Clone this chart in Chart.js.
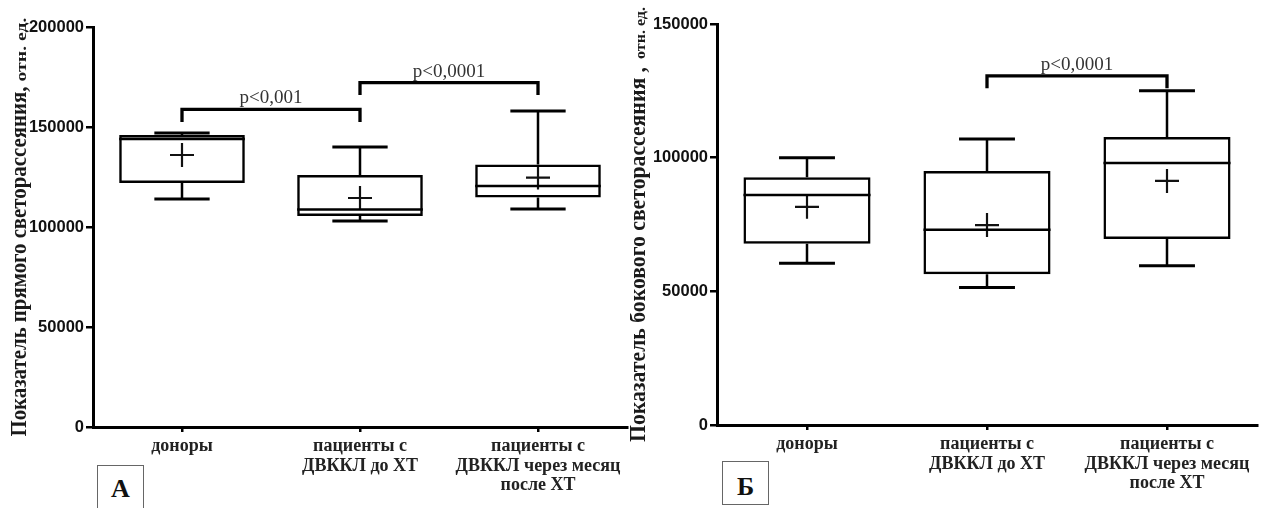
<!DOCTYPE html>
<html>
<head>
<meta charset="utf-8">
<script src="https://cdn.jsdelivr.net/npm/chart.js@4.4.0/dist/chart.umd.min.js"></script>
<style>
    body { margin: 0; background: #fff; width: 1264px; height: 508px; overflow: hidden; position: relative; }
    .panel { position: absolute; top: 0; height: 508px; }
    #panelA { left: 0; width: 630px; }
    #panelB { left: 630px; width: 634px; }
    .letter { position: absolute; border: 1px solid #666; box-sizing: border-box; text-align: center;
              font: bold 26px "Liberation Serif", serif; color: #111; background: #fff; }
</style>
</head>
<body>
<div class="panel" id="panelA"><canvas id="chartA" width="630" height="508"></canvas></div>
<div class="panel" id="panelB"><canvas id="chartB" width="634" height="508"></canvas></div>
<div class="letter" style="left:97px; top:465px; width:47px; height:50px; line-height:46px;">А</div>
<div class="letter" style="left:722px; top:461px; width:47px; height:44px; line-height:50px;">Б</div>

<script>
// Groups (same for both panels)
var categories = ['доноры', ['пациенты с', 'ДВККЛ до ХТ'], ['пациенты с', 'ДВККЛ через месяц', 'после ХТ']];

// Panel A - forward scatter
var minA = [114000, 103000, 109000];
var q1A = [122000, 105500, 114700];
var medianA = [144000, 108800, 120500];
var q3A = [146000, 126000, 131300];
var maxA = [147000, 140000, 158000];
var meanA = [136000, 114500, 124700];
var ticksA = [0, 50000, 100000, 150000, 200000];

// Panel B - side scatter
var minB = [60500, 51400, 59600];
var q1B = [67800, 56400, 69600];
var medianB = [86000, 73000, 98000];
var q3B = [92700, 95000, 107700];
var maxB = [100000, 107000, 125000];
var meanB = [81600, 74800, 91300];
var ticksB = [0, 50000, 100000, 150000];

// significance brackets
var bracketFromA = [0, 1];
var bracketToA = [1, 2];
var bracketLevelA = [158800, 172200];
var bracketTipA = [152500, 166000];
var bracketTextA = ['p<0,001', 'p<0,0001'];

var bracketFromB = [1];
var bracketToB = [2];
var bracketLevelB = [130600];
var bracketTipB = [126000];
var bracketTextB = ['p<0,0001'];

// whiskers, caps and median lines on top of the floating bars
var boxExtras = {
    id: 'boxExtras',
    afterDatasetsDraw: function (chart, args, opts) {
        var ctx = chart.ctx;
        var y = chart.scales.y;
        var bars = chart.getDatasetMeta(0).data;
        ctx.save();
        ctx.strokeStyle = '#000';
        ctx.lineWidth = 2.5;
        bars.forEach(function (bar, i) {
            var half = bar.width / 2;
            var cap = bar.width * 0.22;
            var yMed = y.getPixelForValue(opts.median[i]);
            var yQ1 = y.getPixelForValue(opts.q1[i]);
            var yQ3 = y.getPixelForValue(opts.q3[i]);
            var yMin = y.getPixelForValue(opts.min[i]);
            var yMax = y.getPixelForValue(opts.max[i]);
            ctx.beginPath();
            ctx.moveTo(bar.x - half, yMed); ctx.lineTo(bar.x + half, yMed);
            ctx.moveTo(bar.x, yQ3); ctx.lineTo(bar.x, yMax);
            ctx.moveTo(bar.x, yQ1); ctx.lineTo(bar.x, yMin);
            ctx.stroke();
            ctx.lineWidth = 3;
            ctx.beginPath();
            ctx.moveTo(bar.x - cap, yMax); ctx.lineTo(bar.x + cap, yMax);
            ctx.moveTo(bar.x - cap, yMin); ctx.lineTo(bar.x + cap, yMin);
            ctx.stroke();
            ctx.lineWidth = 2.5;
        });
        ctx.restore();
    }
};

var brackets = {
    id: 'brackets',
    afterDatasetsDraw: function (chart, args, opts) {
        var ctx = chart.ctx;
        var x = chart.scales.x, y = chart.scales.y;
        ctx.save();
        ctx.strokeStyle = '#000';
        ctx.lineWidth = 3.3;
        ctx.fillStyle = '#333';
        ctx.font = '19px "Liberation Serif", serif';
        ctx.textAlign = 'center';
        ctx.textBaseline = 'alphabetic';
        opts.from.forEach(function (f, i) {
            var x1 = x.getPixelForValue(f), x2 = x.getPixelForValue(opts.to[i]);
            var yl = y.getPixelForValue(opts.level[i]), yt = y.getPixelForValue(opts.tip[i]);
            ctx.beginPath();
            ctx.moveTo(x1, yt); ctx.lineTo(x1, yl); ctx.lineTo(x2, yl); ctx.lineTo(x2, yt);
            ctx.stroke();
            ctx.fillText(opts.text[i], (x1 + x2) / 2, yl - 6);
        });
        ctx.restore();
    }
};

// rotated y title: large condensed main part plus smaller units
var yTitle = {
    id: 'yTitle',
    afterDraw: function (chart, args, opts) {
        var ctx = chart.ctx;
        var area = chart.chartArea;
        var total = opts.mainLen + opts.gap + opts.suffixLen;
        ctx.save();
        ctx.fillStyle = '#1a1a1a';
        ctx.textBaseline = 'alphabetic';
        ctx.textAlign = 'left';
        ctx.translate(opts.x, (area.top + area.bottom) / 2);
        ctx.rotate(-Math.PI / 2);
        ctx.save();
        ctx.font = 'bold 24px "Liberation Serif", serif';
        ctx.translate(-total / 2, 0);
        ctx.scale(opts.mainLen / ctx.measureText(opts.main).width, 1);
        ctx.fillText(opts.main, 0, 0);
        ctx.restore();
        ctx.save();
        ctx.font = 'bold 15px "Liberation Serif", serif';
        ctx.translate(-total / 2 + opts.mainLen + opts.gap, 0);
        ctx.scale(opts.suffixLen / ctx.measureText(opts.suffix).width, 1);
        ctx.fillText(opts.suffix, 0, 0);
        ctx.restore();
        ctx.restore();
    }
};

function makeChart(id, d) {
    var ctx = document.getElementById(id).getContext('2d');
    return new Chart(ctx, {
        type: 'bar',
        data: {
            labels: categories,
            datasets: [{
                data: d.q1.map(function (v, i) { return [v, d.q3[i]]; }),
                backgroundColor: 'rgba(255,255,255,0)',
                borderColor: '#000',
                borderWidth: 2.5,
                borderSkipped: false,
                barPercentage: 0.706,
                categoryPercentage: 1
            }, {
                type: 'line',
                data: d.mean,
                showLine: false,
                pointStyle: 'cross',
                pointRadius: 12,
                pointHoverRadius: 12,
                pointBorderWidth: 2.2,
                pointBorderColor: '#111',
                pointBackgroundColor: 'rgba(0,0,0,0)'
            }]
        },
        options: {
            responsive: false,
            animation: false,
            events: [],
            layout: { padding: d.padding, autoPadding: false },
            scales: {
                x: {
                    offset: true,
                    grid: { offset: false, drawOnChartArea: false, color: '#000', lineWidth: 2.5, tickLength: 5 },
                    border: { color: '#000', width: 3 },
                    ticks: {
                        color: '#222',
                        font: { family: '"Liberation Serif", serif', size: 18, weight: 'bold', lineHeight: 1.08 },
                        padding: 5,
                        maxRotation: 0,
                        autoSkip: false
                    },
                    afterFit: function (s) {
                        s.height = d.xHeight;
                        s.paddingLeft = 0;
                        s.paddingRight = 0;
                    }
                },
                y: {
                    min: d.ticks[0],
                    max: d.ticks[d.ticks.length - 1],
                    grid: { drawOnChartArea: false, color: '#000', lineWidth: 2.5, tickLength: 7 },
                    border: { color: '#000', width: 3 },
                    ticks: {
                        stepSize: d.ticks[1] - d.ticks[0],
                        color: '#111',
                        font: { family: '"Liberation Sans", Arial, sans-serif', size: 16.5, weight: 'bold' },
                        padding: 2,
                        callback: function (v) { return String(v); }
                    },
                    afterFit: function (s) { s.width = d.yWidth; }
                }
            },
            plugins: {
                legend: { display: false },
                tooltip: { enabled: false },
                boxExtras: { min: d.min, q1: d.q1, median: d.median, q3: d.q3, max: d.max },
                brackets: d.brackets,
                yTitle: d.title
            }
        },
        plugins: [boxExtras, brackets, yTitle]
    });
}

var chartA = makeChart('chartA', {
    min: minA, q1: q1A, median: medianA, q3: q3A, max: maxA, mean: meanA, ticks: ticksA,
    padding: { top: 27, right: 3, bottom: 0, left: 0 },
    yWidth: 93, xHeight: 81,
    brackets: { from: bracketFromA, to: bracketToA, level: bracketLevelA, tip: bracketTipA, text: bracketTextA },
    title: { main: 'Показатель прямого светорассеяния,', suffix: 'отн. ед.', x: 26,
             mainLen: 350, gap: 5, suffixLen: 64 }
});

var chartB = makeChart('chartB', {
    min: minB, q1: q1B, median: medianB, q3: q3B, max: maxB, mean: meanB, ticks: ticksB,
    padding: { top: 24, right: 7, bottom: 0, left: 0 },
    yWidth: 87, xHeight: 83,
    brackets: { from: bracketFromB, to: bracketToB, level: bracketLevelB, tip: bracketTipB, text: bracketTextB },
    title: { main: 'Показатель бокового светорассеяния ,', suffix: 'отн. ед.', x: 15,
             mainLen: 375, gap: 8, suffixLen: 52 }
});
</script>
</body>
</html>
